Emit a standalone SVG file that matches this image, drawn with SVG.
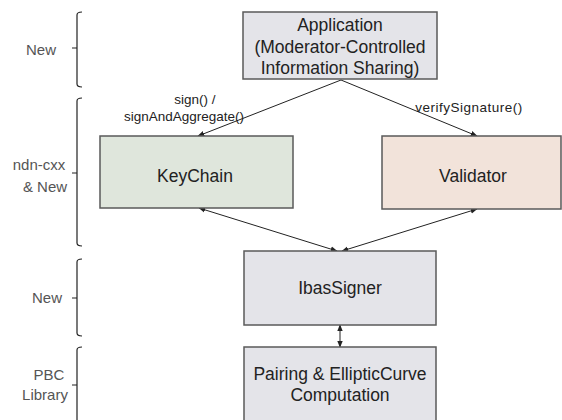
<svg xmlns="http://www.w3.org/2000/svg" width="562" height="420" viewBox="0 0 562 420">
<defs>
<marker id="ah" viewBox="0 0 10 10" refX="9" refY="5" markerWidth="7" markerHeight="7" orient="auto-start-reverse" markerUnits="userSpaceOnUse">
<path d="M0,1 L10,5 L0,9 z" fill="#222"/>
</marker>
<style>
.box{stroke:#5a5a5a;stroke-width:1.5}
.t{font-family:"Liberation Sans",Arial,sans-serif;font-size:17.5px;fill:#222;text-anchor:middle}
.e{font-family:"Liberation Sans",Arial,sans-serif;font-size:13.5px;fill:#222;text-anchor:middle}
.l{font-family:"Liberation Sans",Arial,sans-serif;font-size:15px;fill:#555;text-anchor:middle}
.c{stroke:#222;stroke-width:1;fill:none}
.br{stroke:#222;stroke-width:1.2;fill:none}
</style>
</defs>
<rect width="562" height="420" fill="#fff"/>
<g id="brackets">
<path class="br" d="M82,12 Q77,12 77,15 L77,84 Q77,87 82,87 M77,48 L72,48"/>
<path class="br" d="M82,98 Q77,98 77,101 L77,243 Q77,246 82,246 M77,173 L72,173"/>
<path class="br" d="M82,259 Q77,259 77,262 L77,333 Q77,336 82,336 M77,298 L72,298"/>
<path class="br" d="M82,347 Q77,347 77,350 L77,421 M77,385 L72,385"/>
<text class="l" x="41" y="55">New</text>
<text class="l" x="39" y="170">ndn-cxx</text>
<text class="l" x="45" y="192">&amp; New</text>
<text class="l" x="47" y="303">New</text>
<text class="l" x="49" y="380">PBC</text>
<text class="l" x="45" y="400">Library</text>
</g>
<g id="connectors">
<line class="c" x1="341" y1="80" x2="198" y2="136" marker-end="url(#ah)"/>
<line class="c" x1="341" y1="80" x2="477" y2="136" marker-end="url(#ah)"/>
<line class="c" x1="199" y1="208" x2="337" y2="251" marker-start="url(#ah)" marker-end="url(#ah)"/>
<line class="c" x1="477" y1="209" x2="342" y2="251" marker-start="url(#ah)" marker-end="url(#ah)"/>
<line class="c" x1="340" y1="325" x2="340" y2="347" marker-start="url(#ah)" marker-end="url(#ah)"/>
<text class="e" x="195" y="104">sign() /</text>
<text class="e" x="184" y="121">signAndAggregate()</text>
<text class="e" x="469" y="112" letter-spacing="0.5">verifySignature()</text>
</g>
<g id="app">
<rect class="box" x="243" y="12" width="194" height="67" fill="#e4e4e9"/>
<text class="t" x="340" y="31">Application</text>
<text class="t" x="340" y="53">(Moderator-Controlled</text>
<text class="t" x="340" y="74">Information Sharing)</text>
</g>
<g id="keychain">
<rect class="box" x="100" y="136" width="193" height="72" fill="#dfe6dc"/>
<text class="t" x="195" y="182">KeyChain</text>
</g>
<g id="validator">
<rect class="box" x="382" y="136" width="179" height="73" fill="#f2e3da"/>
<text class="t" x="473" y="182">Validator</text>
</g>
<g id="ibassigner">
<rect class="box" x="244" y="251" width="192" height="74" fill="#e4e4e9"/>
<text class="t" x="340" y="294">IbasSigner</text>
</g>
<g id="pbc">
<rect class="box" x="244" y="347" width="192" height="80" fill="#e4e4e9"/>
<text class="t" x="340" y="380">Pairing &amp; EllipticCurve</text>
<text class="t" x="340" y="401">Computation</text>
</g>
</svg>
